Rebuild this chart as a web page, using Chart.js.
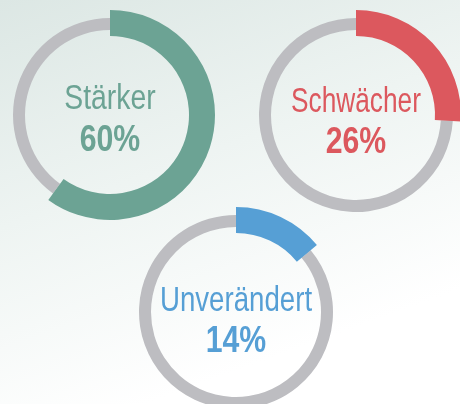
<!DOCTYPE html>
<html>
<head>
<meta charset="utf-8">
<script src="https://cdn.jsdelivr.net/npm/chart.js@4"></script>
<style>
  html, body { margin: 0; padding: 0; }
  body { width: 460px; height: 404px; overflow: hidden; position: relative;
    background: linear-gradient(160deg, #dce7e4 0%, #eef4f2 40%, #ffffff 80%); }
  .ring { position: absolute; width: 220px; height: 220px; }
  .ring canvas { position: absolute; left: 0; top: 0; }
  .txt { position: absolute; width: 220px; left: 0; text-align: center; line-height: 1; white-space: nowrap;
    font-family: "Liberation Sans", Arial, sans-serif; transform-origin: 50% 50%; }
  .lab { font-size: 35px; font-weight: normal; }
  .val { font-size: 36px; font-weight: bold; }
</style>
</head>
<body>
<script>
const categories = ["Stärker", "Schwächer", "Unverändert"];
const values = [60, 26, 14];
const colors = ["#6ca394", "#dc585e", "#569fd5"];
const trackColor = "#bdbdc1";
const centers = [[110, 115], [356, 115], [236, 312]];
const textTops = [[78.5, 120.5], [81.5, 123], [281, 321.5]];
const labelScale = [0.81, 0.75, 0.79];
const valueScale = 0.84;

categories.forEach((cat, i) => {
  const box = document.createElement('div');
  box.className = 'ring';
  box.style.left = (centers[i][0] - 110) + 'px';
  box.style.top = (centers[i][1] - 110) + 'px';
  document.body.appendChild(box);

  const c1 = document.createElement('canvas');
  c1.width = 220; c1.height = 220;
  box.appendChild(c1);
  const c2 = document.createElement('canvas');
  c2.width = 220; c2.height = 220;
  box.appendChild(c2);

  const common = {
    responsive: false,
    animation: false,
    events: [],
    layout: { padding: 0 },
    plugins: { legend: { display: false }, tooltip: { enabled: false } },
    elements: { arc: { borderWidth: 0 } }
  };

  new Chart(c1, {
    type: 'doughnut',
    data: { labels: [cat, ''], datasets: [{ data: [values[i], 100 - values[i]], backgroundColor: [trackColor, trackColor] }] },
    options: Object.assign({}, common, { radius: 97, cutout: (85 / 97 * 100) + '%' })
  });
  new Chart(c2, {
    type: 'doughnut',
    data: { labels: [cat, ''], datasets: [{ data: [values[i], 100 - values[i]], backgroundColor: [colors[i], 'rgba(0,0,0,0)'] }] },
    options: Object.assign({}, common, { radius: 105, cutout: (79 / 105 * 100) + '%' })
  });

  const l = document.createElement('div');
  l.className = 'txt lab';
  l.style.color = colors[i];
  l.style.top = (textTops[i][0] - (centers[i][1] - 110)) + 'px';
  l.style.transform = 'scaleX(' + labelScale[i] + ')';
  l.textContent = cat;
  box.appendChild(l);

  const v = document.createElement('div');
  v.className = 'txt val';
  v.style.color = colors[i];
  v.style.top = (textTops[i][1] - (centers[i][1] - 110)) + 'px';
  v.style.transform = 'scaleX(' + valueScale + ')';
  v.textContent = values[i] + '%';
  box.appendChild(v);
});
</script>
</body>
</html>
